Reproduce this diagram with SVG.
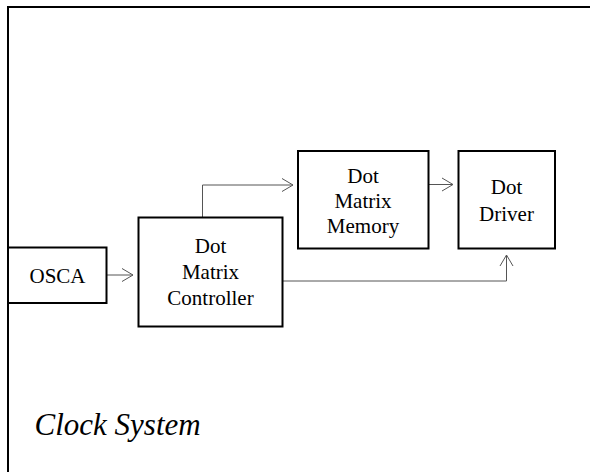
<svg xmlns="http://www.w3.org/2000/svg" width="590" height="472" viewBox="0 0 590 472">
<style>
.box{fill:#fff;stroke:#000;stroke-width:2}
.lbl{font-size:21px;fill:#000;text-anchor:middle}
.conn{fill:none;stroke:#555;stroke-width:1}
</style>
<defs>
<marker id="arr" markerWidth="14" markerHeight="16" refX="12" refY="8" orient="auto" markerUnits="userSpaceOnUse">
<path d="M1,1.5 L12,8 L1,14.5" fill="none" stroke="#555" stroke-width="1"/>
</marker>
</defs>
<rect width="590" height="472" fill="#fff"/>
<path d="M8,472 V7 H590" fill="none" stroke="#000" stroke-width="2"/>
<g id="connectors">
<path class="conn" d="M107,275 H133" marker-end="url(#arr)"/>
<path class="conn" d="M202.5,217 V185 H293" marker-end="url(#arr)"/>
<path class="conn" d="M429,184.5 H453" marker-end="url(#arr)"/>
<path class="conn" d="M283,281 H506.5 V255" marker-end="url(#arr)"/>
</g>
<g font-family="Liberation Serif, Times New Roman, serif">
<g id="osca">
<rect class="box" x="8" y="247.5" width="98.5" height="55.5"/>
<text class="lbl" x="57.5" y="283">OSCA</text>
</g>
<g id="controller">
<rect class="box" x="138.5" y="217.5" width="144" height="109"/>
<text class="lbl" x="210.5" y="253">Dot</text>
<text class="lbl" x="210.5" y="279">Matrix</text>
<text class="lbl" x="210.5" y="305">Controller</text>
</g>
<g id="memory">
<rect class="box" x="298" y="151" width="130.5" height="97.5"/>
<text class="lbl" x="363" y="183">Dot</text>
<text class="lbl" x="363" y="208">Matrix</text>
<text class="lbl" x="363" y="233">Memory</text>
</g>
<g id="driver">
<rect class="box" x="458.5" y="151" width="96.5" height="97.5"/>
<text class="lbl" x="506.5" y="194">Dot</text>
<text class="lbl" x="506.5" y="220.5">Driver</text>
</g>
<text x="34.5" y="435" font-size="31" font-style="italic" fill="#000">Clock System</text>
</g>
</svg>
